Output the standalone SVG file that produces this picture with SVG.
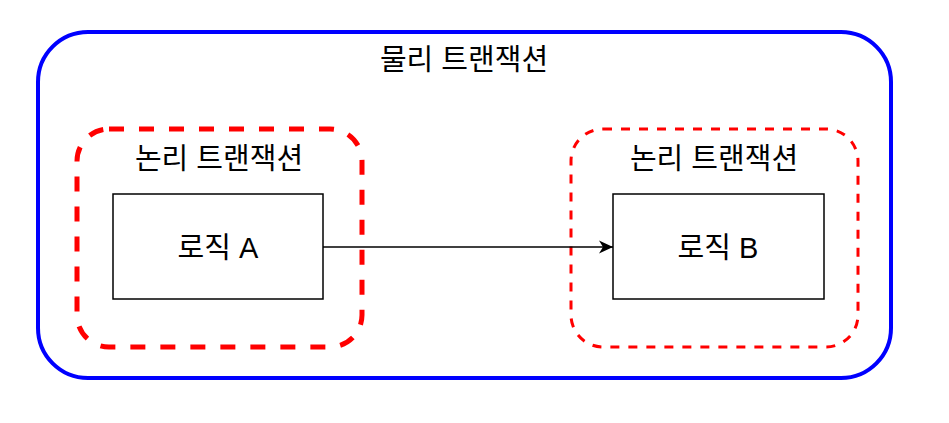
<svg xmlns="http://www.w3.org/2000/svg" width="949" height="423" viewBox="0 0 949 423">
<style>
text{font-family:"Liberation Sans","Noto Sans CJK KR",sans-serif;font-size:29px;fill:#000;text-anchor:middle}
.outer{fill:none;stroke:#0000ff;stroke-width:4}
.lt1{fill:none;stroke:#ff0000;stroke-width:5;stroke-dasharray:15 15}
.lt2{fill:none;stroke:#ff0000;stroke-width:3;stroke-dasharray:9 9}
.box{fill:#fff;stroke:#000;stroke-width:1.5}
.edge{fill:none;stroke:#000;stroke-width:1.5}
</style>
<defs>
<marker id="arr" viewBox="0 0 14 14" refX="14" refY="7" markerWidth="14" markerHeight="14" markerUnits="userSpaceOnUse" orient="auto">
<path d="M0,0.5 L14,7 L0,13.5 L4,7 Z" fill="#000"/>
</marker>
</defs>
<rect width="949" height="423" fill="#fff"/>
<g id="physical-tx">
<rect class="outer" x="38" y="32" width="853" height="346" rx="50" ry="50"/>
<text x="464" y="70">물리 트랜잭션</text>
</g>
<g id="logical-tx-a">
<rect class="lt1" x="77" y="129" width="285" height="218" rx="32" ry="32"/>
<text x="219" y="169">논리 트랜잭션</text>
</g>
<g id="logical-tx-b">
<rect class="lt2" x="571" y="129" width="287" height="218" rx="32" ry="32"/>
<text x="714" y="169">논리 트랜잭션</text>
</g>
<g id="logic-a">
<rect class="box" x="113" y="194" width="210" height="105"/>
<text x="218" y="258">로직 A</text>
</g>
<g id="logic-b">
<rect class="box" x="613" y="194" width="211" height="105"/>
<text x="718" y="258">로직 B</text>
</g>
<g id="connectors">
<path class="edge" d="M323,247 L613,247" marker-end="url(#arr)"/>
</g>
</svg>
